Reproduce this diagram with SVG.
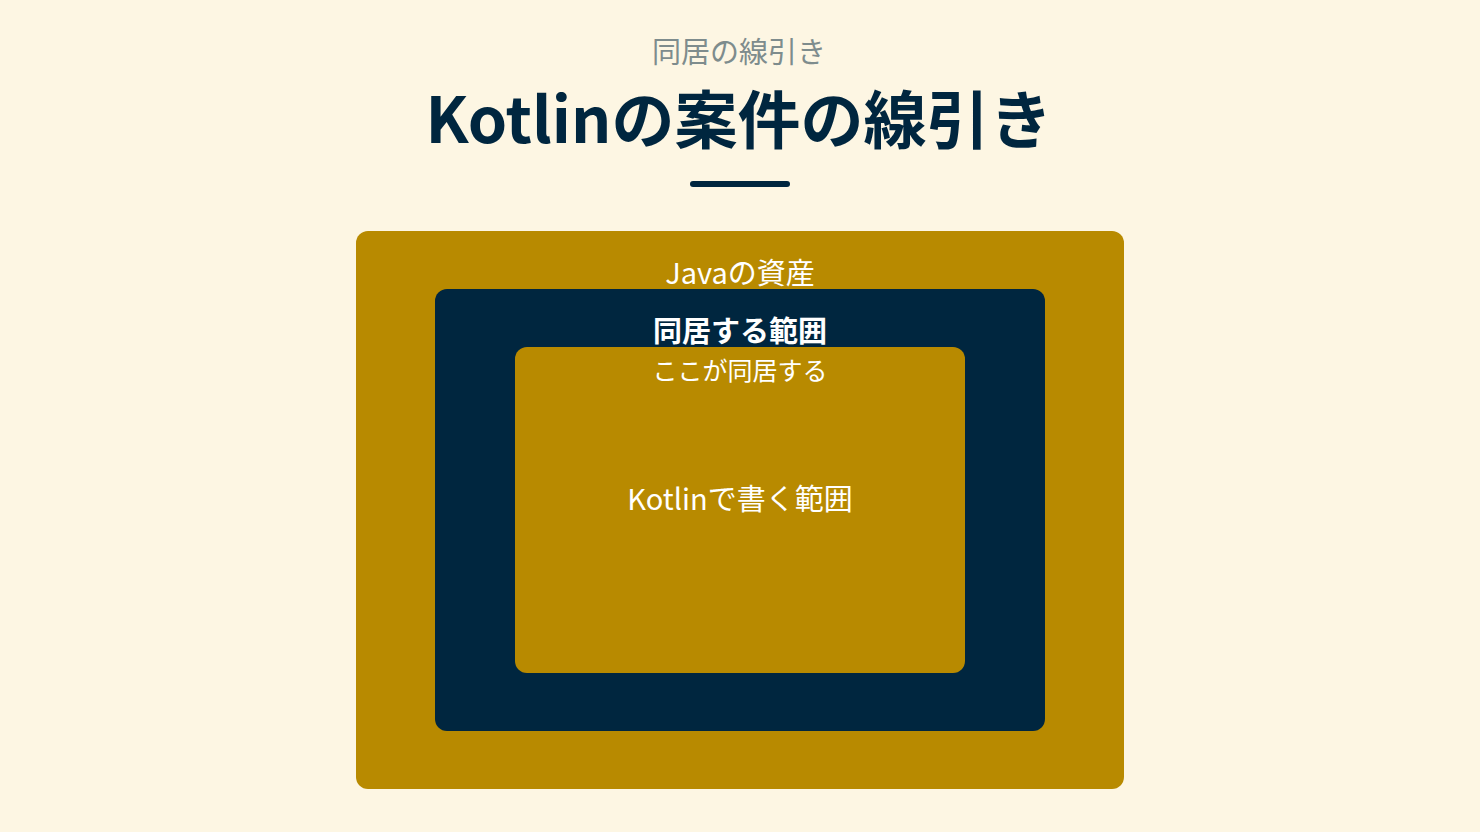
<svg xmlns="http://www.w3.org/2000/svg" width="1480" height="832" viewBox="0 0 1480 832">
<style>
.t{font-family:"Noto Sans CJK JP","Noto Sans",sans-serif;text-anchor:middle}
.w{fill:#FFFFFF}
</style>
<rect x="0" y="0" width="1480" height="832" fill="#FDF6E3"/>
<g id="header">
<text class="t" x="739" y="63" font-size="29" fill="#7E8C8D">同居の線引き</text>
<text class="t" x="739" y="143" font-size="63" font-weight="bold" fill="#00263F">Kotlinの案件の線引き</text>
<rect x="690" y="181" width="100" height="6" rx="3" fill="#00263F"/>
</g>
<g id="java">
<rect x="356" y="231" width="768" height="558" rx="12" fill="#B88A00"/>
<text class="t w" x="740" y="284" font-size="29">Javaの資産</text>
</g>
<g id="coexist">
<rect x="435" y="289" width="610" height="442" rx="12" fill="#00263F"/>
<text class="t w" x="740" y="342" font-size="29" font-weight="bold">同居する範囲</text>
</g>
<g id="kotlin">
<rect x="515" y="347" width="450" height="326" rx="12" fill="#B88A00"/>
<text class="t w" x="740" y="380" font-size="25">ここが同居する</text>
<text class="t w" x="740" y="510" font-size="29">Kotlinで書く範囲</text>
</g>
<g id="connectors"></g>
</svg>
